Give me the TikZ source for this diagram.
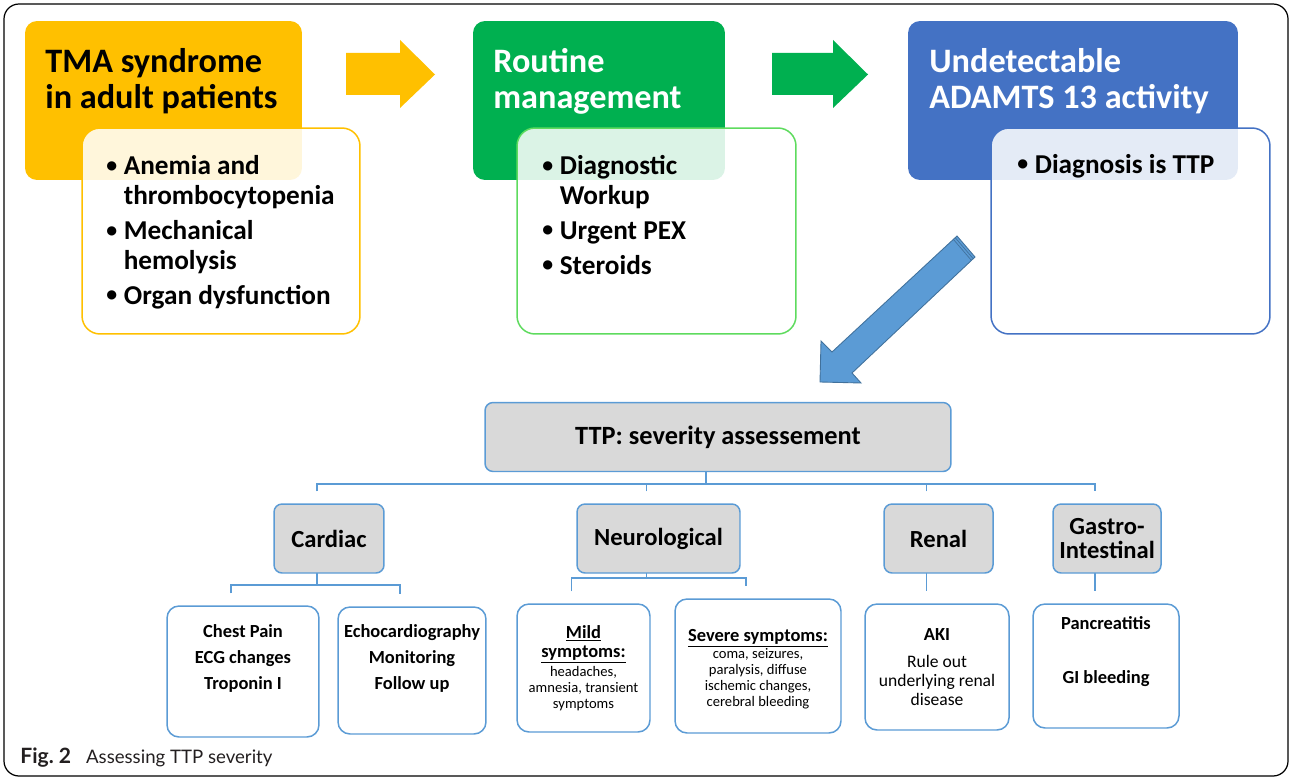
\documentclass[tikz,border=0pt]{standalone}
\usepackage{graphicx}
\usepackage{fontspec}
\setmainfont{Carlito}
\newfontfamily\capfont{Lato}
\usetikzlibrary{backgrounds}

\definecolor{tmayellow}{HTML}{FFC000}
\definecolor{pexgreen}{HTML}{00B050}
\definecolor{listgreen}{HTML}{5EDB5E}
\definecolor{adamblue}{HTML}{4472C4}
\definecolor{treeblue}{HTML}{5B9BD5}
\definecolor{arrowedge}{HTML}{41719C}
\definecolor{boxgray}{HTML}{D9D9D9}
\definecolor{captext}{HTML}{231F20}

\newcommand\bul{\makebox[0.35cm][l]{\raisebox{0.08em}{\scalebox{0.8}{\textbullet}}}}
\newcommand\ind{\hspace*{0.35cm}}

\tikzset{
  header/.style={fill=#1, rounded corners=0.24cm, inner sep=0, minimum height=3.18cm},
  listbox/.style={draw=#1, line width=0.85pt, fill=white, fill opacity=0.86,
    rounded corners=0.36cm, inner sep=0, minimum height=4.12cm},
  headtxt/.style={anchor=base west, inner sep=0, align=left,
    font=\fontsize{19.5}{21}\selectfont\bfseries},
  bultxt/.style={anchor=base west, inner sep=0, align=left,
    font=\fontsize{15.5}{17}\selectfont\bfseries},
  tier/.style={draw=treeblue, fill=boxgray, line width=0.85pt, rounded corners=0.16cm,
    inner sep=0, minimum height=1.38cm, align=center},
  leaf/.style={draw=treeblue, fill=white, line width=0.85pt, rounded corners=0.24cm, inner sep=0},
  leafhead/.style={anchor=base, inner sep=0, align=center,
    font=\fontsize{10.5}{14.7}\selectfont\bfseries},
  leafsmall/.style={anchor=base, inner sep=0, align=center,
    font=\fontsize{8.3}{9.07}\selectfont},
  link/.style={draw=treeblue, line width=1pt,
    transform canvas={xshift=-0.24cm, yshift=0.24cm}}
}

\begin{document}
\begin{tikzpicture}[x=0.02cm, y=-0.02cm]
\useasboundingbox (0,0) rectangle (1290,777);
\draw[line width=0.7pt, rounded corners=0.3cm] (4,4) rectangle (1288,776);

% top row (text nodes sit on the baseline of their last line)
\node[header=tmayellow, minimum width=5.54cm] (tma) at (163.5,100.5) {};
\node[headtxt] (tmatxt) at (45,109) {TMA syndrome\\in adult patients};
\node[listbox=tmayellow, minimum width=5.56cm] (tmalist) at (221,231) {};
\node[bultxt] (tmaitems) at (106,304)
  {\bul Anemia and\\\ind thrombocytopenia\\[0.1cm]\bul Mechanical\\\ind hemolysis\\[0.1cm]\bul Organ dysfunction};

\node[header=pexgreen, minimum width=5.04cm] (routine) at (599,100.5) {};
\node[headtxt, text=white] (routinetxt) at (493,109) {Routine\\management};
\node[listbox=listgreen, minimum width=5.58cm] (routinelist) at (656.5,231) {};
\node[bultxt] (routineitems) at (542,274)
  {\bul Diagnostic\\\ind Workup\\[0.1cm]\bul Urgent PEX\\[0.1cm]\bul Steroids};

\node[header=adamblue, minimum width=6.6cm] (adamts) at (1073,100.5) {};
\node[headtxt, text=white] (adamtstxt) at (929,109) {Undetectable\\ADAMTS 13 activity};
\node[listbox=adamblue, minimum width=5.58cm] (adamtslist) at (1130.5,231) {};
\node[bultxt] (adamtsitems) at (1017,173) {\bul Diagnosis is TTP};

% block arrows
\fill[tmayellow] (346,53) -- (400,53) -- (400,40) -- (435,74.5) -- (400,108) -- (400,95) -- (346,95) -- cycle;
\fill[pexgreen] (772,53) -- (833,53) -- (833,40) -- (868,74.5) -- (833,108) -- (833,95) -- (772,95) -- cycle;
\filldraw[fill=treeblue, draw=arrowedge, line width=0.5pt]
  (957,236) -- (975,257) -- (852,373) -- (861,383) -- (820,382) -- (821,341) -- (832,352) -- cycle;
\draw[arrowedge, line width=0.4pt] (955.2,237.7) -- (973.2,258.7);
\draw[arrowedge, line width=0.4pt] (953.4,239.4) -- (971.4,260.4);

% severity tree
\node[tier, minimum width=9.32cm, font=\fontsize{15}{16}\selectfont\bfseries] (top) at (718,437) {TTP: severity assessement};
\node[tier, minimum width=2.2cm, font=\fontsize{14}{14.2}\selectfont\bfseries] (cardiac) at (329,538.5) {Cardiac};
\node[tier, minimum width=3.26cm, font=\fontsize{14}{14.2}\selectfont\bfseries] (neuro) at (658.5,538.5) {Neurological};
\node[tier, minimum width=2.18cm, font=\fontsize{14}{14.2}\selectfont\bfseries] (renal) at (938.5,538.5) {Renal};
\node[tier, minimum width=2.16cm, font=\fontsize{14}{14.2}\selectfont\bfseries] (gastro) at (1107,538.5) {Gastro-\\Intestinal};

\node[leaf, minimum width=3.04cm, minimum height=2.62cm] (chest) at (243,671.5) {};
\node[leaf, minimum width=2.96cm, minimum height=2.54cm] (echo) at (412,670.5) {};
\node[leaf, minimum width=2.66cm, minimum height=2.56cm] (mild) at (583.5,668) {};
\node[leaf, minimum width=3.32cm, minimum height=2.68cm] (severe) at (758,666) {};
\node[leaf, minimum width=2.88cm, minimum height=2.52cm] (aki) at (937,667) {};
\node[leaf, minimum width=2.92cm, minimum height=2.48cm] (gi) at (1106,666) {};

\node[leafhead] (chesttxt) at (243,689) {Chest Pain\\ECG changes\\Troponin I};
\node[leafhead] (echotxt) at (412,689) {Echocardiography\\Monitoring\\Follow up};
\node[leafhead, font=\fontsize{10.5}{10.8}\selectfont\bfseries] (mildhead) at (583.5,657) {\underline{Mild}\\\underline{symptoms:}};
\node[leafsmall] (mildtxt) at (583.5,708) {headaches,\\amnesia, transient\\symptoms};
\node[leafhead] (severehead) at (758,641) {\underline{Severe symptoms:}};
\node[leafsmall] (severetxt) at (758,706) {coma, seizures,\\paralysis, diffuse\\ischemic changes,\\cerebral bleeding};
\node[leafhead] (akihead) at (937,640) {AKI};
\node[leafhead, font=\fontsize{10}{10.8}\selectfont] (akitxt) at (937,705) {Rule out\\underlying renal\\disease};
\node[leafhead] (pancreas) at (1106,629) {Pancreatitis};
\node[leafhead] (bleed) at (1106,683) {GI bleeding};

\begin{scope}[on background layer]
  \draw[link] (top.south) -- ++(0,24) coordinate (bus);
  \draw[link] (cardiac.north) |- (bus) -| (gastro.north);
  \draw[link] (neuro.north) -- (neuro.north |- bus);
  \draw[link] (renal.north) -- (renal.north |- bus);
  \draw[link] (cardiac.south) -- ++(0,23) coordinate (cbus);
  \draw[link] (chest.north) |- (cbus) -| (echo.north);
  \draw[link] (neuro.south) -- ++(0,16) coordinate (nbus);
  \draw[link] (mild.north) |- (nbus) -| (severe.north);
  \draw[link] (renal.south) -- (renal.south |- aki.north);
  \draw[link] (gastro.south) -- (gastro.south |- gi.north);
\end{scope}

\node[anchor=base west, inner sep=0, text=captext, font=\capfont\fontsize{10.6}{12}\selectfont] (caption) at (20,763)
  {\textbf{\large Fig.~2}\hspace{0.3cm}Assessing TTP severity};
\end{tikzpicture}
\end{document}
